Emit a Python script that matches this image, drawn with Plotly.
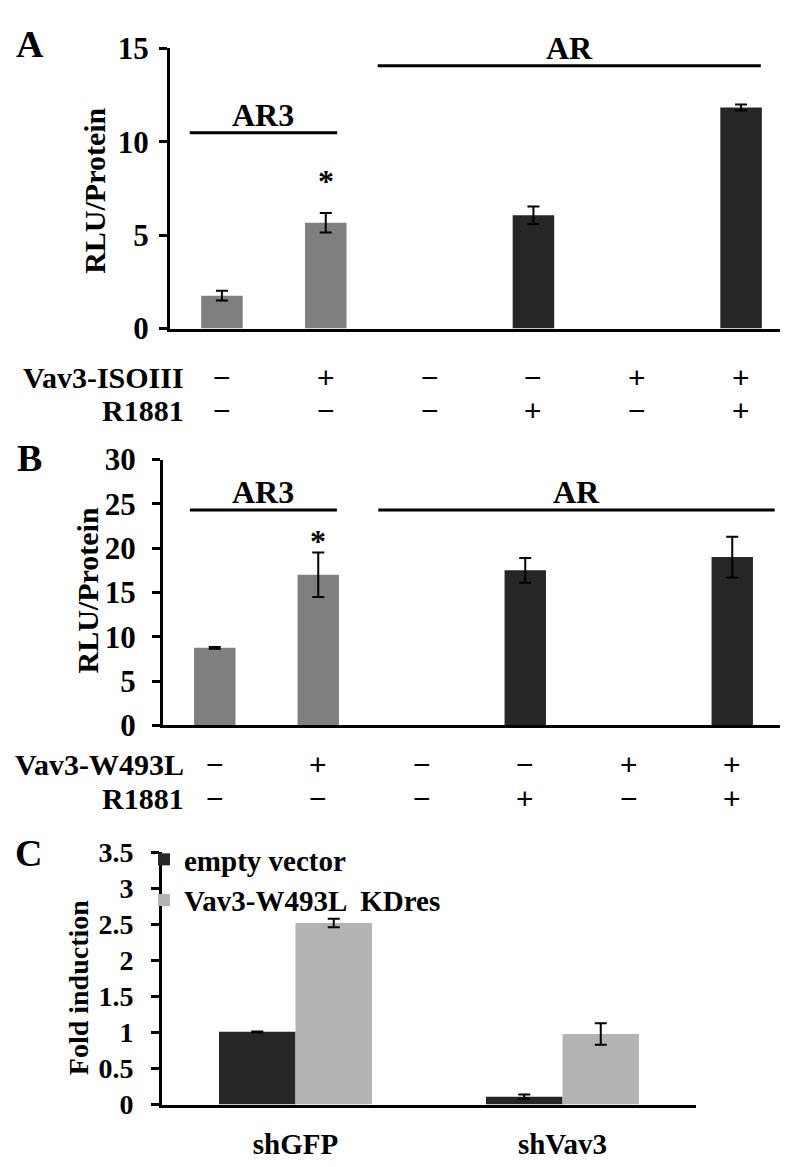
import plotly.graph_objects as go

W, H = 788, 1167

# ---------------- data ----------------
A_conditions = [0, 1, 2, 3, 4, 5]
A_vav3 = ["−", "+", "−", "−", "+", "+"]
A_r1881 = ["−", "−", "−", "+", "−", "+"]
A_values = [1.76, 5.66, None, 6.07, None, 11.83]
A_errors = [0.26, 0.52, 0, 0.47, 0, 0.16]
A_groups = ["AR3", "AR3", "AR", "AR", "AR", "AR"]

B_conditions = [0, 1, 2, 3, 4, 5]
B_vav3 = ["−", "+", "−", "−", "+", "+"]
B_r1881 = ["−", "−", "−", "+", "−", "+"]
B_values = [8.75, 17.0, None, 17.5, None, 19.0]
B_errors = [0.1, 2.5, 0, 1.4, 0, 2.3]
B_groups = ["AR3", "AR3", "AR", "AR", "AR", "AR"]

C_categories = ["shGFP", "shVav3"]
C_empty = [1.01, 0.11]
C_empty_err = [0.005, 0.03]
C_kdres = [2.52, 0.98]
C_kdres_err = [0.06, 0.15]

A_yticks = [0, 5, 10, 15]
B_yticks = [0, 5, 10, 15, 20, 25, 30]
C_yticks = [0, 0.5, 1, 1.5, 2, 2.5, 3, 3.5]
C_yticklabels = ["0", "0.5", "1", "1.5", "2", "2.5", "3", "3.5"]

# ---------------- style ----------------
SERIF = "Liberation Serif, Times New Roman, Times, DejaVu Serif, serif"
SANS = "Liberation Sans, Arial, DejaVu Sans, sans-serif"
GRAY = "#7f7f7f"
DARK = "#262626"
LIGHT = "#b3b3b3"
group_color = {"AR3": GRAY, "AR": DARK}


def px_x(p):
    return p / W


def px_y(p):
    return 1 - p / H


def bold(size):
    return dict(family=SERIF, size=size, color="black", weight="bold")


fig = go.Figure()

err_style = dict(type="data", color="black", thickness=2, width=6, visible=True)

fig.add_trace(go.Bar(
    x=A_conditions, y=A_values, width=0.4,
    marker=dict(color=[group_color[g] for g in A_groups], line=dict(width=0)),
    error_y=dict(array=A_errors, **err_style),
    xaxis="x", yaxis="y", showlegend=False))

fig.add_trace(go.Bar(
    x=B_conditions, y=B_values, width=0.4,
    marker=dict(color=[group_color[g] for g in B_groups], line=dict(width=0)),
    error_y=dict(array=B_errors, **err_style),
    xaxis="x2", yaxis="y2", showlegend=False))

fig.add_trace(go.Bar(
    x=C_categories, y=C_empty, name="empty vector",
    marker=dict(color=DARK, line=dict(width=0)),
    error_y=dict(array=C_empty_err, **err_style),
    xaxis="x3", yaxis="y3"))
fig.add_trace(go.Bar(
    x=C_categories, y=C_kdres, name="Vav3-W493L  KDres",
    marker=dict(color=LIGHT, line=dict(width=0)),
    error_y=dict(array=C_kdres_err, **err_style),
    xaxis="x3", yaxis="y3"))

yax_common = dict(showline=True, linewidth=3, linecolor="black", ticks="outside",
                  ticklen=8, tickwidth=3, tickcolor="black", showgrid=False,
                  zeroline=False)
xax_common = dict(showline=True, linewidth=3, linecolor="black", showgrid=False,
                  zeroline=False, ticks="")

fig.update_layout(
    width=W, height=H, margin=dict(l=0, r=0, t=0, b=0),
    plot_bgcolor="white", paper_bgcolor="white",
    barmode="group", bargap=0.427, bargroupgap=0,
    xaxis=dict(domain=[px_x(162), px_x(785)], range=[-0.5, 5.5], anchor="y",
               showticklabels=False, **xax_common),
    yaxis=dict(domain=[px_y(313), px_y(24)], range=[0, 15], anchor="x",
               tickvals=A_yticks, ticklabelstandoff=4, tickfont=bold(31), **yax_common),
    xaxis2=dict(domain=[px_x(155), px_x(776)], range=[-0.5, 5.5], anchor="y2",
                showticklabels=False, **xax_common),
    yaxis2=dict(domain=[px_y(722), px_y(448)], range=[0, 30], anchor="x2",
                tickvals=B_yticks, ticklabelstandoff=10, tickfont=bold(31), **yax_common),
    xaxis3=dict(domain=[px_x(154), px_x(688)], range=[-0.5, 1.5], anchor="y3",
                tickfont=bold(29), ticklabelstandoff=12, **xax_common),
    yaxis3=dict(domain=[px_y(1113), px_y(853)], range=[0, 3.5], anchor="x3",
                tickvals=C_yticks, ticktext=C_yticklabels, ticklabelstandoff=12,
                tickfont=bold(28), **yax_common),
    legend=dict(x=px_x(136), y=px_y(834), xanchor="left", yanchor="top",
                bgcolor="rgba(0,0,0,0)", font=bold(29),
                tracegroupgap=0, itemclick=False),
)

annotations = []
shapes = []

# panel letters
for letter, (lx, ly) in {"A": (22, 20), "B": (21, 446), "C": (20, 854)}.items():
    annotations.append(dict(text=letter, x=px_x(lx), y=px_y(ly), xref="paper",
                            yref="paper", showarrow=False, xanchor="center", yanchor="middle",
                            font=bold(38)))

# y titles
for title, (tx, ty), size in [("RLU/Protein", (87, 171), 30),
                              ("RLU/Protein", (80, 583), 30),
                              ("Fold induction", (70, 993), 28)]:
    annotations.append(dict(text=title, x=px_x(tx), y=px_y(ty), xref="paper",
                            yref="paper", showarrow=False, textangle=-90,
                            xanchor="center", yanchor="middle", font=bold(size)))

# condition rows
rows = [
    ("x", "Vav3-ISOIII", A_vav3, 363, A_conditions),
    ("x", "R1881", A_r1881, 397, A_conditions),
    ("x2", "Vav3-W493L", B_vav3, 762, B_conditions),
    ("x2", "R1881", B_r1881, 797, B_conditions),
]
for xref, label, signs, ry, conds in rows:
    annotations.append(dict(text=label, x=px_x(178), y=px_y(ry), xref="paper",
                            yref="paper", showarrow=False, xanchor="right", yanchor="middle",
                            font=bold(30)))
    for c, s in zip(conds, signs):
        annotations.append(dict(text=s, x=c, y=px_y(ry), xref=xref, yref="paper",
                                showarrow=False, xanchor="center", yanchor="middle",
                                font=dict(family=SANS, size=30, color="black")))

# group brackets (x in category units, y in data units)
brackets = [
    ("x", "y", "AR3", -0.31, 1.11, 10.48),
    ("x", "y", "AR", 1.50, 5.19, 14.06),
    ("x2", "y2", "AR3", -0.24, 1.18, 24.3),
    ("x2", "y2", "AR", 1.58, 5.41, 24.3),
]
for xr, yr, label, x0, x1, yv in brackets:
    shapes.append(dict(type="line", xref=xr, yref=yr, x0=x0, x1=x1, y0=yv, y1=yv,
                       line=dict(color="black", width=3)))
    annotations.append(dict(text=label, x=(x0 + x1) / 2, y=yv, xref=xr, yref=yr,
                            showarrow=False, xanchor="center", yanchor="bottom", yshift=-2,
                            font=bold(32)))

# significance stars
for xr, yr, vals, errs, idx, shift in [("x", "y", A_values, A_errors, 1, 12),
                                       ("x2", "y2", B_values, B_errors, 1, -8)]:
    annotations.append(dict(text="*", x=idx, y=vals[idx] + errs[idx], xref=xr, yref=yr,
                            showarrow=False, xanchor="center", yanchor="bottom", yshift=shift,
                            font=bold(32)))

fig.update_layout(annotations=annotations, shapes=shapes)
fig.write_html("out.html")
